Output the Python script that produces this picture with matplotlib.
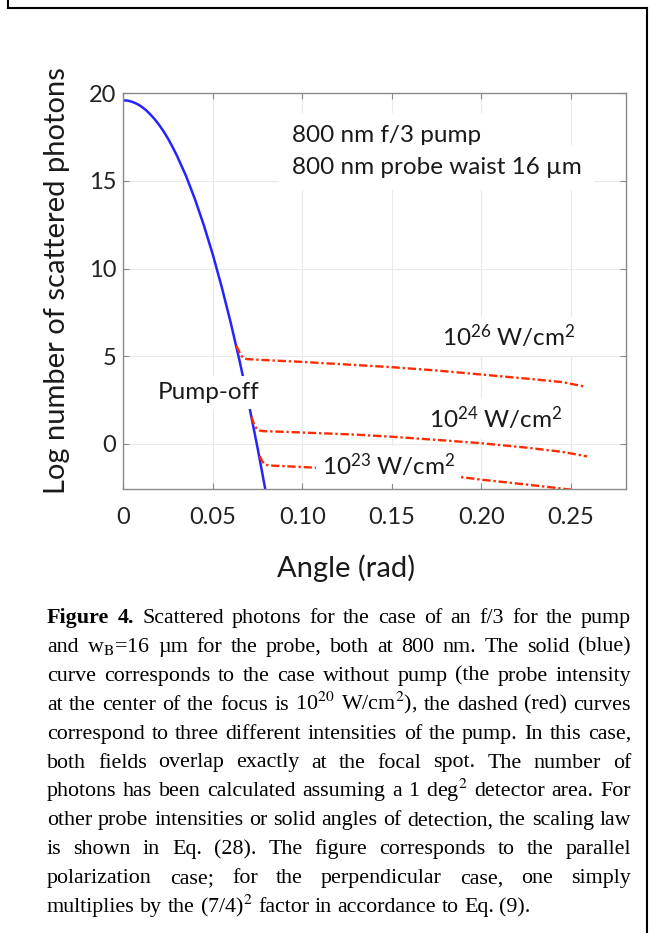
import matplotlib
matplotlib.use("Agg")
import matplotlib.pyplot as plt
from matplotlib.lines import Line2D

# pump-off curve (blue)
ang_off = [0, 0.0025, 0.005, 0.0075, 0.01, 0.0125, 0.015, 0.0175, 0.02, 0.0225,
           0.025, 0.0275, 0.03, 0.035, 0.04, 0.045, 0.05, 0.055, 0.06, 0.065,
           0.07, 0.075, 0.08, 0.081]
log_off = [19.6, 19.58, 19.51, 19.4, 19.25, 19.05, 18.8, 18.52, 18.19, 17.82,
           17.4, 16.93, 16.42, 15.28, 13.95, 12.45, 10.78, 8.92, 6.89, 4.69,
           2.3, -0.26, -3.0, -3.55]

# pump on, 1e26 W/cm2
ang_26 = [0.063, 0.0645, 0.066, 0.0675, 0.069, 0.08, 0.10, 0.125, 0.15,
          0.175, 0.20, 0.225, 0.245, 0.258]
log_26 = [5.6, 5.3, 5.0, 4.88, 4.83, 4.77, 4.67, 4.52, 4.37,
          4.18, 3.95, 3.72, 3.52, 3.26]

# pump on, 1e24 W/cm2
ang_24 = [0.0715, 0.073, 0.0745, 0.076, 0.078, 0.09, 0.11, 0.13, 0.15,
          0.175, 0.20, 0.225, 0.245, 0.259]
log_24 = [1.55, 1.1, 0.85, 0.76, 0.72, 0.68, 0.6, 0.52, 0.4,
          0.22, 0.03, -0.22, -0.46, -0.72]

# pump on, 1e23 W/cm2
ang_23 = [0.0762, 0.0775, 0.079, 0.081, 0.09, 0.106, 0.125, 0.145, 0.165,
          0.186, 0.20, 0.22, 0.24, 0.25]
log_23 = [-0.7, -1.0, -1.17, -1.24, -1.28, -1.36, -1.46, -1.58, -1.71,
          -1.87, -2.05, -2.27, -2.5, -2.62]

xticks = [0, 0.05, 0.10, 0.15, 0.20, 0.25]
xtick_labels = ["0", "0.05", "0.10", "0.15", "0.20", "0.25"]
yticks = [0, 5, 10, 15, 20]

caption = [
    "Figure 4. Scattered photons for the case of an f/3 for the pump",
    r"and w$_\mathrm{B}$=16 µm for the probe, both at 800 nm. The solid (blue)",
    "curve corresponds to the case without pump (the probe intensity",
    r"at the center of the focus is 10$^{\mathrm{20}}$ W/cm$^{\mathrm{2}}$), the dashed (red) curves",
    "correspond to three different intensities of the pump. In this case,",
    "both fields overlap exactly at the focal spot. The number of",
    r"photons has been calculated assuming a 1 deg$^{\mathrm{2}}$ detector area. For",
    "other probe intensities or solid angles of detection, the scaling law",
    "is shown in Eq. (28). The figure corresponds to the parallel",
    "polarization case; for the perpendicular case, one simply",
    r"multiplies by the (7/4)$^{\mathrm{2}}$ factor in accordance to Eq. (9).",
]

plt.rcParams['font.family'] = ['Lato', 'DejaVu Sans']
plt.rcParams['mathtext.fontset'] = 'custom'
plt.rcParams['mathtext.rm'] = 'Lato'
plt.rcParams['mathtext.it'] = 'Lato:italic'
plt.rcParams['mathtext.bf'] = 'Lato:bold'

W, H = 655, 933
fig = plt.figure(figsize=(W / 100, H / 100), dpi=100)
ax = fig.add_axes([123.4 / W, 1 - 489.3 / H, (625.8 - 123.4) / W, (489.3 - 93.3) / H])

red = '#ff2a00'
dd = (3.5, 1.2, 1.0, 1.2)
ax.plot(ang_off, log_off, color='#2424ff', lw=1.8, zorder=2)
for a, v in [(ang_26, log_26), (ang_24, log_24), (ang_23, log_23)]:
    ax.plot(a, v, color=red, lw=1.7, dashes=dd, zorder=2)

ax.set_xlim(0, 0.2807)
ax.set_ylim(-2.6, 20)
ax.set_xticks(xticks, xtick_labels)
ax.set_yticks(yticks)
ax.set_axisbelow(True)
ax.grid(True, color='#e9e9e9', lw=0.8)
for s in ax.spines.values():
    s.set_color('#8a8a8a')
    s.set_linewidth(1.0)
ax.tick_params(direction='in', length=4, width=0.8, color='#8a8a8a',
               top=True, right=True, labelsize=17, labelcolor='#222222')
ax.tick_params(axis='x', pad=13)
ax.tick_params(axis='y', pad=5)

txt = '#1a1a1a'
fsa = 17.5
box = dict(facecolor='white', edgecolor='none', pad=4)
ax.text(0.094, 17.21, "800 nm f/3 pump", fontsize=fsa, color=txt,
        va='baseline', ha='left', bbox=dict(facecolor='white', edgecolor='none', pad=9))
ax.text(0.094, 15.4, "800 nm probe waist 16 µm", fontsize=fsa, color=txt,
        va='baseline', ha='left', bbox=dict(facecolor='white', edgecolor='none', pad=9))
ax.text(0.0478, 2.92, "Pump-off", fontsize=fsa, color=txt, ha='center', va='center', bbox=box)
ax.text(0.178, 5.57, r"10$^{\mathrm{26}}$ W/cm$^{\mathrm{2}}$", fontsize=fsa, color=txt,
        va='baseline', ha='left', bbox=box)
ax.text(0.171, 0.9, r"10$^{\mathrm{24}}$ W/cm$^{\mathrm{2}}$", fontsize=fsa, color=txt,
        va='baseline', ha='left', bbox=box)
ax.text(0.1108, -1.77, r"10$^{\mathrm{23}}$ W/cm$^{\mathrm{2}}$", fontsize=fsa, color=txt,
        va='baseline', ha='left', bbox=box)

fig.text(57 / W, 1 - 281 / H, "Log number of scattered photons", rotation=90,
         fontsize=21, color=txt, ha='center', va='center')
fig.text(346 / W, 1 - 577 / H, "Angle (rad)", fontsize=21, color=txt,
         ha='center', va='baseline')

# page border
for xs, ys in [([8, 8], [0, 8]), ([8, 647], [8, 8]), ([647, 647], [8, 933])]:
    fig.add_artist(Line2D([x / W for x in xs], [1 - y / H for y in ys],
                          color='black', lw=1.5, transform=fig.transFigure))

# justified caption
left, right = 47, 631
base0, step = 623, 28.9
r = fig.canvas.get_renderer()
fs = 17
widest = 0
for line in caption:
    t = fig.text(0, 0, line, fontsize=fs, family='Liberation Serif', math_fontfamily='stix')
    widest = max(widest, t.get_window_extent(r).width)
    t.remove()
fs = fs * min(1.0, (right - left) / widest * 0.995)

for i, line in enumerate(caption):
    words = line.split(' ')
    y = 1 - (base0 + i * step) / H
    arts = []
    for j, w in enumerate(words):
        bold = (i == 0 and j < 2)
        t = fig.text(0, y, w, fontsize=fs, family='Liberation Serif', math_fontfamily='stix',
                     fontweight='bold' if bold else 'normal', va='baseline', color='black')
        arts.append(t)
    widths = [t.get_window_extent(r).width for t in arts]
    if i < len(caption) - 1:
        gap = (right - left - sum(widths)) / (len(words) - 1)
    else:
        gap = fs * 1.389 * 0.25
    x = left
    for t, wd in zip(arts, widths):
        t.set_x(x / W)
        x += wd + gap

fig.savefig('out.png', dpi=100)
